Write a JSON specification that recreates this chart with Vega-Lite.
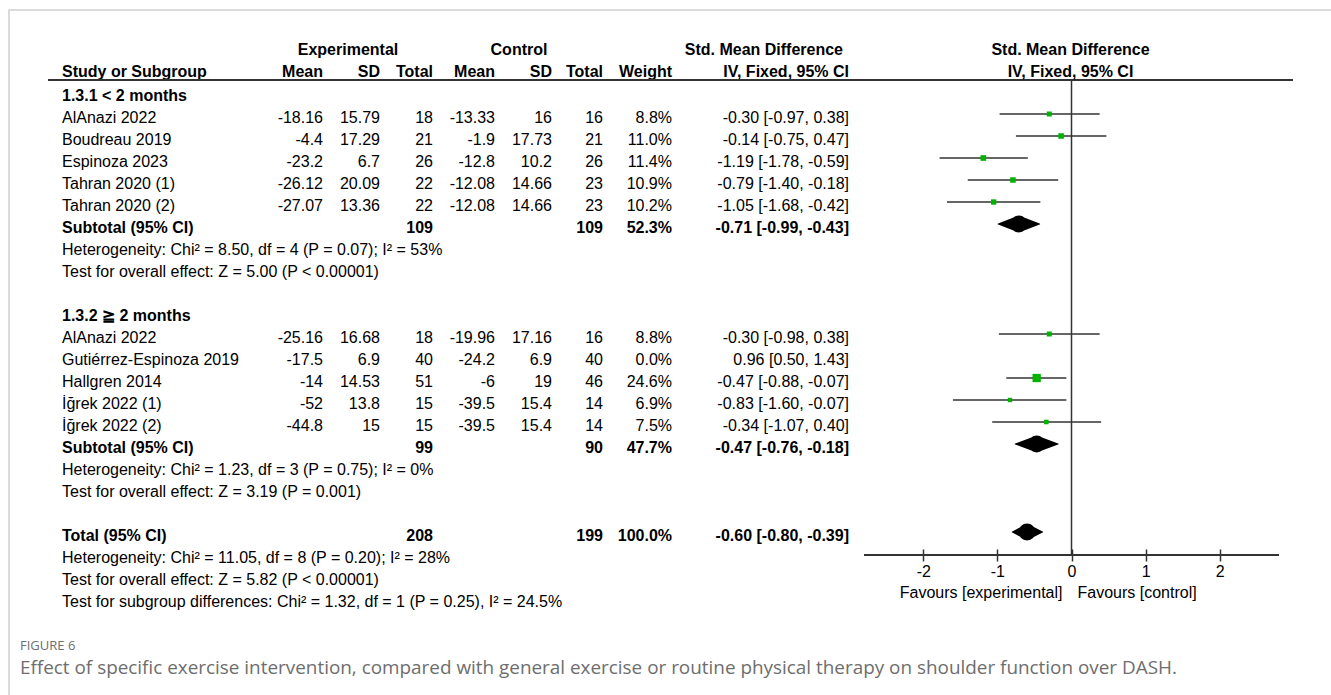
{
  "$schema": "https://vega.github.io/schema/vega-lite/v6.json",
  "width": 1324,
  "height": 687,
  "autosize": {"type": "none"},
  "padding": {"left": 9, "top": 10, "right": 0, "bottom": 0},
  "background": "white",
  "config": {
    "view": {"stroke": "#cfcfcf", "strokeWidth": 1.5},
    "text": {"font": "Liberation Sans", "fontSize": 16, "color": "#000000"},
    "locale": {
      "number": {"decimal": ".", "thousands": ",", "grouping": [3], "currency": ["$", ""], "minus": "-"}
    }
  },
  "datasets": {
    "table": [
      {"row": 0, "kind": "group", "study": "1.3.1  < 2 months"},
      {"row": 1, "kind": "study", "study": "AlAnazi 2022", "emean": -18.16, "esd": 15.79, "etot": 18, "cmean": -13.33, "csd": 16, "ctot": 16, "weight": 8.8, "smd": -0.30, "lo": -0.97, "hi": 0.38},
      {"row": 2, "kind": "study", "study": "Boudreau 2019", "emean": -4.4, "esd": 17.29, "etot": 21, "cmean": -1.9, "csd": 17.73, "ctot": 21, "weight": 11.0, "smd": -0.14, "lo": -0.75, "hi": 0.47},
      {"row": 3, "kind": "study", "study": "Espinoza 2023", "emean": -23.2, "esd": 6.7, "etot": 26, "cmean": -12.8, "csd": 10.2, "ctot": 26, "weight": 11.4, "smd": -1.19, "lo": -1.78, "hi": -0.59},
      {"row": 4, "kind": "study", "study": "Tahran 2020 (1)", "emean": -26.12, "esd": 20.09, "etot": 22, "cmean": -12.08, "csd": 14.66, "ctot": 23, "weight": 10.9, "smd": -0.79, "lo": -1.40, "hi": -0.18},
      {"row": 5, "kind": "study", "study": "Tahran 2020 (2)", "emean": -27.07, "esd": 13.36, "etot": 22, "cmean": -12.08, "csd": 14.66, "ctot": 23, "weight": 10.2, "smd": -1.05, "lo": -1.68, "hi": -0.42},
      {"row": 6, "kind": "subtotal", "study": "Subtotal (95% CI)", "etot": 109, "ctot": 109, "weight": 52.3, "smd": -0.71, "lo": -0.99, "hi": -0.43},
      {"row": 7, "kind": "note", "study": "Heterogeneity: Chi² = 8.50, df = 4 (P = 0.07); I² = 53%"},
      {"row": 8, "kind": "note", "study": "Test for overall effect: Z = 5.00 (P < 0.00001)"},
      {"row": 10, "kind": "group", "study": "1.3.2 ≧ 2 months"},
      {"row": 11, "kind": "study", "study": "AlAnazi 2022", "emean": -25.16, "esd": 16.68, "etot": 18, "cmean": -19.96, "csd": 17.16, "ctot": 16, "weight": 8.8, "smd": -0.30, "lo": -0.98, "hi": 0.38},
      {"row": 12, "kind": "study", "study": "Gutiérrez-Espinoza 2019", "emean": -17.5, "esd": 6.9, "etot": 40, "cmean": -24.2, "csd": 6.9, "ctot": 40, "weight": 0.0, "smd": 0.96, "lo": 0.50, "hi": 1.43},
      {"row": 13, "kind": "study", "study": "Hallgren 2014", "emean": -14, "esd": 14.53, "etot": 51, "cmean": -6, "csd": 19, "ctot": 46, "weight": 24.6, "smd": -0.47, "lo": -0.88, "hi": -0.07},
      {"row": 14, "kind": "study", "study": "İğrek 2022 (1)", "emean": -52, "esd": 13.8, "etot": 15, "cmean": -39.5, "csd": 15.4, "ctot": 14, "weight": 6.9, "smd": -0.83, "lo": -1.60, "hi": -0.07},
      {"row": 15, "kind": "study", "study": "İğrek 2022 (2)", "emean": -44.8, "esd": 15, "etot": 15, "cmean": -39.5, "csd": 15.4, "ctot": 14, "weight": 7.5, "smd": -0.34, "lo": -1.07, "hi": 0.40},
      {"row": 16, "kind": "subtotal", "study": "Subtotal (95% CI)", "etot": 99, "ctot": 90, "weight": 47.7, "smd": -0.47, "lo": -0.76, "hi": -0.18},
      {"row": 17, "kind": "note", "study": "Heterogeneity: Chi² = 1.23, df = 3 (P = 0.75); I² = 0%"},
      {"row": 18, "kind": "note", "study": "Test for overall effect: Z = 3.19 (P = 0.001)"},
      {"row": 20, "kind": "total", "study": "Total (95% CI)", "etot": 208, "ctot": 199, "weight": 100.0, "smd": -0.60, "lo": -0.80, "hi": -0.39},
      {"row": 21, "kind": "note", "study": "Heterogeneity: Chi² = 11.05, df = 8 (P = 0.20); I² = 28%"},
      {"row": 22, "kind": "note", "study": "Test for overall effect: Z = 5.82 (P < 0.00001)"},
      {"row": 23, "kind": "note", "study": "Test for subgroup differences: Chi² = 1.32, df = 1 (P = 0.25), I² = 24.5%"}
    ],
    "headers": [
      {"row": -2, "col": "hexp", "text": "Experimental"},
      {"row": -2, "col": "hctrl", "text": "Control"},
      {"row": -2, "col": "hsmd", "text": "Std. Mean Difference"},
      {"row": -1, "col": "study", "text": "Study or Subgroup"},
      {"row": -1, "col": "emean", "text": "Mean"},
      {"row": -1, "col": "esd", "text": "SD"},
      {"row": -1, "col": "etot", "text": "Total"},
      {"row": -1, "col": "cmean", "text": "Mean"},
      {"row": -1, "col": "csd", "text": "SD"},
      {"row": -1, "col": "ctot", "text": "Total"},
      {"row": -1, "col": "weight", "text": "Weight"},
      {"row": -1, "col": "ci", "text": "IV, Fixed, 95% CI"}
    ],
    "plotHeaders": [
      {"row": -2, "text": "Std. Mean Difference"},
      {"row": -1, "text": "IV, Fixed, 95% CI"}
    ],
    "captions": [
      {"row": 25, "text": "FIGURE 6"},
      {"row": 26, "text": "Effect of specific exercise intervention, compared with general exercise or routine physical therapy on shoulder function over DASH."}
    ]
  },
  "layer": [
    {
      "data": {"name": "table"},
      "transform": [
        {"calculate": "datum.study", "as": "t_study"},
        {"calculate": "datum.emean == null ? null : '' + datum.emean", "as": "t_emean"},
        {"calculate": "datum.esd == null ? null : '' + datum.esd", "as": "t_esd"},
        {"calculate": "datum.etot == null ? null : '' + datum.etot", "as": "t_etot"},
        {"calculate": "datum.cmean == null ? null : '' + datum.cmean", "as": "t_cmean"},
        {"calculate": "datum.csd == null ? null : '' + datum.csd", "as": "t_csd"},
        {"calculate": "datum.ctot == null ? null : '' + datum.ctot", "as": "t_ctot"},
        {"calculate": "datum.weight == null ? null : format(datum.weight, '.1f') + '%'", "as": "t_weight"},
        {"calculate": "datum.smd == null ? null : format(datum.smd, '.2f') + ' [' + format(datum.lo, '.2f') + ', ' + format(datum.hi, '.2f') + ']'", "as": "t_ci"},
        {"fold": ["t_study", "t_emean", "t_esd", "t_etot", "t_cmean", "t_csd", "t_ctot", "t_weight", "t_ci"], "as": ["key", "value"]},
        {"filter": "datum.value != null"},
        {"calculate": "replace(datum.key, 't_', '')", "as": "col"},
        {"calculate": "indexof(['caption','edgeL','study','emean','hexp','esd','etot','cmean','hctrl','csd','ctot','weight','hsmd','ci','edgeR'], datum.col)", "as": "colIdx"}
      ],
      "encoding": {
        "x": {
          "field": "colIdx", "type": "quantitative",
          "scale": {"domain": [0,1,2,3,4,5,6,7,8,9,10,11,12,13,14], "range": [11,39,53,314,339,371,424,486,510,543,594,663,834,840,1284], "nice": false, "zero": false},
          "axis": null
        },
        "y": {"field": "row", "type": "quantitative", "scale": {"domain": [-3.7273, 27.5], "reverse": true, "nice": false, "zero": false}, "axis": null},
        "text": {"field": "value"}
      },
      "layer": [
        {
          "transform": [{"filter": "datum.col == 'study' && (datum.kind == 'study' || datum.kind == 'note')"}],
          "mark": {"type": "text", "align": "left", "baseline": "middle", "dy": 4}
        },
        {
          "transform": [{"filter": "datum.col == 'study' && (datum.kind == 'group' || datum.kind == 'subtotal' || datum.kind == 'total')"}],
          "mark": {"type": "text", "align": "left", "baseline": "middle", "dy": 4, "fontWeight": "bold"}
        },
        {
          "transform": [{"filter": "datum.col != 'study' && datum.kind == 'study'"}],
          "mark": {"type": "text", "align": "right", "baseline": "middle", "dy": 4}
        },
        {
          "transform": [{"filter": "datum.col != 'study' && (datum.kind == 'subtotal' || datum.kind == 'total')"}],
          "mark": {"type": "text", "align": "right", "baseline": "middle", "dy": 4, "fontWeight": "bold"}
        }
      ]
    },
    {
      "data": {"name": "headers"},
      "transform": [
        {"calculate": "indexof(['caption','edgeL','study','emean','hexp','esd','etot','cmean','hctrl','csd','ctot','weight','hsmd','ci','edgeR'], datum.col)", "as": "colIdx"}
      ],
      "encoding": {
        "x": {
          "field": "colIdx", "type": "quantitative",
          "scale": {"domain": [0,1,2,3,4,5,6,7,8,9,10,11,12,13,14], "range": [11,39,53,314,339,371,424,486,510,543,594,663,834,840,1284], "nice": false, "zero": false},
          "axis": null
        },
        "y": {"field": "row", "type": "quantitative", "scale": {"domain": [-3.7273, 27.5], "reverse": true, "nice": false, "zero": false}, "axis": null},
        "text": {"field": "text"}
      },
      "layer": [
        {
          "transform": [{"filter": "datum.col == 'study'"}],
          "mark": {"type": "text", "align": "left", "baseline": "middle", "dy": 2, "fontWeight": "bold"}
        },
        {
          "transform": [{"filter": "datum.col == 'hexp' || datum.col == 'hctrl'"}],
          "mark": {"type": "text", "align": "center", "baseline": "middle", "dy": 2, "fontWeight": "bold"}
        },
        {
          "transform": [{"filter": "datum.col != 'study' && datum.col != 'hexp' && datum.col != 'hctrl'"}],
          "mark": {"type": "text", "align": "right", "baseline": "middle", "dy": 2, "fontWeight": "bold"}
        }
      ]
    },
    {
      "data": {"values": [{"from": 1, "to": 14, "row": -0.545}]},
      "mark": {"type": "rule", "color": "#333333", "strokeWidth": 2},
      "encoding": {
        "x": {
          "field": "from", "type": "quantitative",
          "scale": {"domain": [0,1,2,3,4,5,6,7,8,9,10,11,12,13,14], "range": [11,39,53,314,339,371,424,486,510,543,594,663,834,840,1284], "nice": false, "zero": false},
          "axis": null
        },
        "x2": {"field": "to"},
        "y": {"field": "row", "type": "quantitative", "scale": {"domain": [-3.7273, 27.5], "reverse": true, "nice": false, "zero": false}, "axis": null}
      }
    },
    {
      "data": {"name": "captions"},
      "transform": [{"calculate": "0", "as": "colIdx"}],
      "encoding": {
        "x": {
          "field": "colIdx", "type": "quantitative",
          "scale": {"domain": [0,1,2,3,4,5,6,7,8,9,10,11,12,13,14], "range": [11,39,53,314,339,371,424,486,510,543,594,663,834,840,1284], "nice": false, "zero": false},
          "axis": null
        },
        "y": {"field": "row", "type": "quantitative", "scale": {"domain": [-3.7273, 27.5], "reverse": true, "nice": false, "zero": false}, "axis": null},
        "text": {"field": "text"}
      },
      "layer": [
        {
          "transform": [{"filter": "datum.row == 25"}],
          "mark": {"type": "text", "align": "left", "baseline": "middle", "dy": 4, "font": "Open Sans", "fontSize": 13, "color": "#6e6e6e"}
        },
        {
          "transform": [{"filter": "datum.row == 26"}],
          "mark": {"type": "text", "align": "left", "baseline": "middle", "dy": 4, "font": "Open Sans", "fontSize": 18.9, "color": "#6e6e6e"}
        }
      ]
    },
    {
      "resolve": {"scale": {"size": "independent"}},
      "layer": [
        {
          "data": {"values": [{"x": 0, "top": -0.545, "bottom": 21.05}]},
          "mark": {"type": "rule", "color": "#333333", "strokeWidth": 1.5},
          "encoding": {
            "x": {
              "field": "x", "type": "quantitative",
              "scale": {"domain": [-2.8, 2.8], "range": [855, 1270], "nice": false, "zero": false},
              "axis": {"orient": "bottom", "offset": -148, "values": [-2, -1, 0, 1, 2], "format": "d", "domain": false, "grid": false, "ticks": true, "tickSize": 12, "tickWidth": 1.5, "tickColor": "#333333", "labelFont": "Liberation Sans", "labelFontSize": 16, "labelColor": "#000000", "labelPadding": 2, "title": null}
            },
            "y": {"field": "top", "type": "quantitative", "scale": {"domain": [-3.7273, 27.5], "reverse": true, "nice": false, "zero": false}, "axis": null},
            "y2": {"field": "bottom"}
          }
        },
        {
          "data": {"values": [{"from": -2.8, "to": 2.8, "row": 21.05}]},
          "mark": {"type": "rule", "color": "#333333", "strokeWidth": 2},
          "encoding": {
            "x": {
              "field": "from", "type": "quantitative",
              "scale": {"domain": [-2.8, 2.8], "range": [855, 1270], "nice": false, "zero": false},
              "axis": {"orient": "bottom", "offset": -148, "values": [-2, -1, 0, 1, 2], "format": "d", "domain": false, "grid": false, "ticks": true, "tickSize": 12, "tickWidth": 1.5, "tickColor": "#333333", "labelFont": "Liberation Sans", "labelFontSize": 16, "labelColor": "#000000", "labelPadding": 2, "title": null}
            },
            "x2": {"field": "to"},
            "y": {"field": "row", "type": "quantitative", "scale": {"domain": [-3.7273, 27.5], "reverse": true, "nice": false, "zero": false}, "axis": null}
          }
        },
        {
          "data": {"name": "table"},
          "transform": [{"filter": "datum.kind == 'study' && datum.weight > 0"}],
          "mark": {"type": "rule", "color": "#333333", "strokeWidth": 1.5},
          "encoding": {
            "x": {
              "field": "lo", "type": "quantitative",
              "scale": {"domain": [-2.8, 2.8], "range": [855, 1270], "nice": false, "zero": false},
              "axis": {"orient": "bottom", "offset": -148, "values": [-2, -1, 0, 1, 2], "format": "d", "domain": false, "grid": false, "ticks": true, "tickSize": 12, "tickWidth": 1.5, "tickColor": "#333333", "labelFont": "Liberation Sans", "labelFontSize": 16, "labelColor": "#000000", "labelPadding": 2, "title": null}
            },
            "x2": {"field": "hi"},
            "y": {"field": "row", "type": "quantitative", "scale": {"domain": [-3.7273, 27.5], "reverse": true, "nice": false, "zero": false}, "axis": null}
          }
        },
        {
          "data": {"name": "table"},
          "transform": [{"filter": "datum.kind == 'study' && datum.weight > 0"}],
          "mark": {"type": "point", "shape": "square", "filled": true, "color": "#00b300", "opacity": 1, "strokeWidth": 0},
          "encoding": {
            "x": {
              "field": "smd", "type": "quantitative",
              "scale": {"domain": [-2.8, 2.8], "range": [855, 1270], "nice": false, "zero": false},
              "axis": {"orient": "bottom", "offset": -148, "values": [-2, -1, 0, 1, 2], "format": "d", "domain": false, "grid": false, "ticks": true, "tickSize": 12, "tickWidth": 1.5, "tickColor": "#333333", "labelFont": "Liberation Sans", "labelFontSize": 16, "labelColor": "#000000", "labelPadding": 2, "title": null}
            },
            "y": {"field": "row", "type": "quantitative", "scale": {"domain": [-3.7273, 27.5], "reverse": true, "nice": false, "zero": false}, "axis": null},
            "size": {"field": "weight", "type": "quantitative", "scale": {"domain": [0, 25], "range": [0, 70]}, "legend": null}
          }
        },
        {
          "data": {"name": "table"},
          "transform": [
            {"filter": "datum.kind == 'subtotal' || datum.kind == 'total'"},
            {"fold": ["lo", "smd", "hi"], "as": ["k", "xv"]},
            {"calculate": "datum.k == 'smd' ? 1 : 0", "as": "bulge"}
          ],
          "mark": {"type": "trail", "color": "#000000", "opacity": 1},
          "encoding": {
            "x": {
              "field": "xv", "type": "quantitative",
              "scale": {"domain": [-2.8, 2.8], "range": [855, 1270], "nice": false, "zero": false},
              "axis": {"orient": "bottom", "offset": -148, "values": [-2, -1, 0, 1, 2], "format": "d", "domain": false, "grid": false, "ticks": true, "tickSize": 12, "tickWidth": 1.5, "tickColor": "#333333", "labelFont": "Liberation Sans", "labelFontSize": 16, "labelColor": "#000000", "labelPadding": 2, "title": null}
            },
            "y": {"field": "row", "type": "quantitative", "scale": {"domain": [-3.7273, 27.5], "reverse": true, "nice": false, "zero": false}, "axis": null},
            "size": {"field": "bulge", "type": "quantitative", "scale": {"domain": [0, 1], "range": [0, 17]}, "legend": null},
            "detail": {"field": "row", "type": "nominal"},
            "order": {"field": "xv", "type": "quantitative"}
          }
        },
        {
          "data": {"name": "plotHeaders"},
          "transform": [{"calculate": "0", "as": "x"}],
          "mark": {"type": "text", "align": "center", "baseline": "middle", "dy": 2, "dx": -1, "fontWeight": "bold"},
          "encoding": {
            "x": {
              "field": "x", "type": "quantitative",
              "scale": {"domain": [-2.8, 2.8], "range": [855, 1270], "nice": false, "zero": false},
              "axis": {"orient": "bottom", "offset": -148, "values": [-2, -1, 0, 1, 2], "format": "d", "domain": false, "grid": false, "ticks": true, "tickSize": 12, "tickWidth": 1.5, "tickColor": "#333333", "labelFont": "Liberation Sans", "labelFontSize": 16, "labelColor": "#000000", "labelPadding": 2, "title": null}
            },
            "y": {"field": "row", "type": "quantitative", "scale": {"domain": [-3.7273, 27.5], "reverse": true, "nice": false, "zero": false}, "axis": null},
            "text": {"field": "text"}
          }
        },
        {
          "data": {"values": [{"label": "Favours [experimental]", "x": 0, "row": 22.75}]},
          "mark": {"type": "text", "align": "right", "baseline": "middle", "dx": -9},
          "encoding": {
            "x": {
              "field": "x", "type": "quantitative",
              "scale": {"domain": [-2.8, 2.8], "range": [855, 1270], "nice": false, "zero": false},
              "axis": {"orient": "bottom", "offset": -148, "values": [-2, -1, 0, 1, 2], "format": "d", "domain": false, "grid": false, "ticks": true, "tickSize": 12, "tickWidth": 1.5, "tickColor": "#333333", "labelFont": "Liberation Sans", "labelFontSize": 16, "labelColor": "#000000", "labelPadding": 2, "title": null}
            },
            "y": {"field": "row", "type": "quantitative", "scale": {"domain": [-3.7273, 27.5], "reverse": true, "nice": false, "zero": false}, "axis": null},
            "text": {"field": "label"}
          }
        },
        {
          "data": {"values": [{"label": "Favours [control]", "x": 0, "row": 22.75}]},
          "mark": {"type": "text", "align": "left", "baseline": "middle", "dx": 6},
          "encoding": {
            "x": {
              "field": "x", "type": "quantitative",
              "scale": {"domain": [-2.8, 2.8], "range": [855, 1270], "nice": false, "zero": false},
              "axis": {"orient": "bottom", "offset": -148, "values": [-2, -1, 0, 1, 2], "format": "d", "domain": false, "grid": false, "ticks": true, "tickSize": 12, "tickWidth": 1.5, "tickColor": "#333333", "labelFont": "Liberation Sans", "labelFontSize": 16, "labelColor": "#000000", "labelPadding": 2, "title": null}
            },
            "y": {"field": "row", "type": "quantitative", "scale": {"domain": [-3.7273, 27.5], "reverse": true, "nice": false, "zero": false}, "axis": null},
            "text": {"field": "label"}
          }
        }
      ]
    }
  ],
  "resolve": {"scale": {"x": "independent"}, "axis": {"x": "independent"}}
}
